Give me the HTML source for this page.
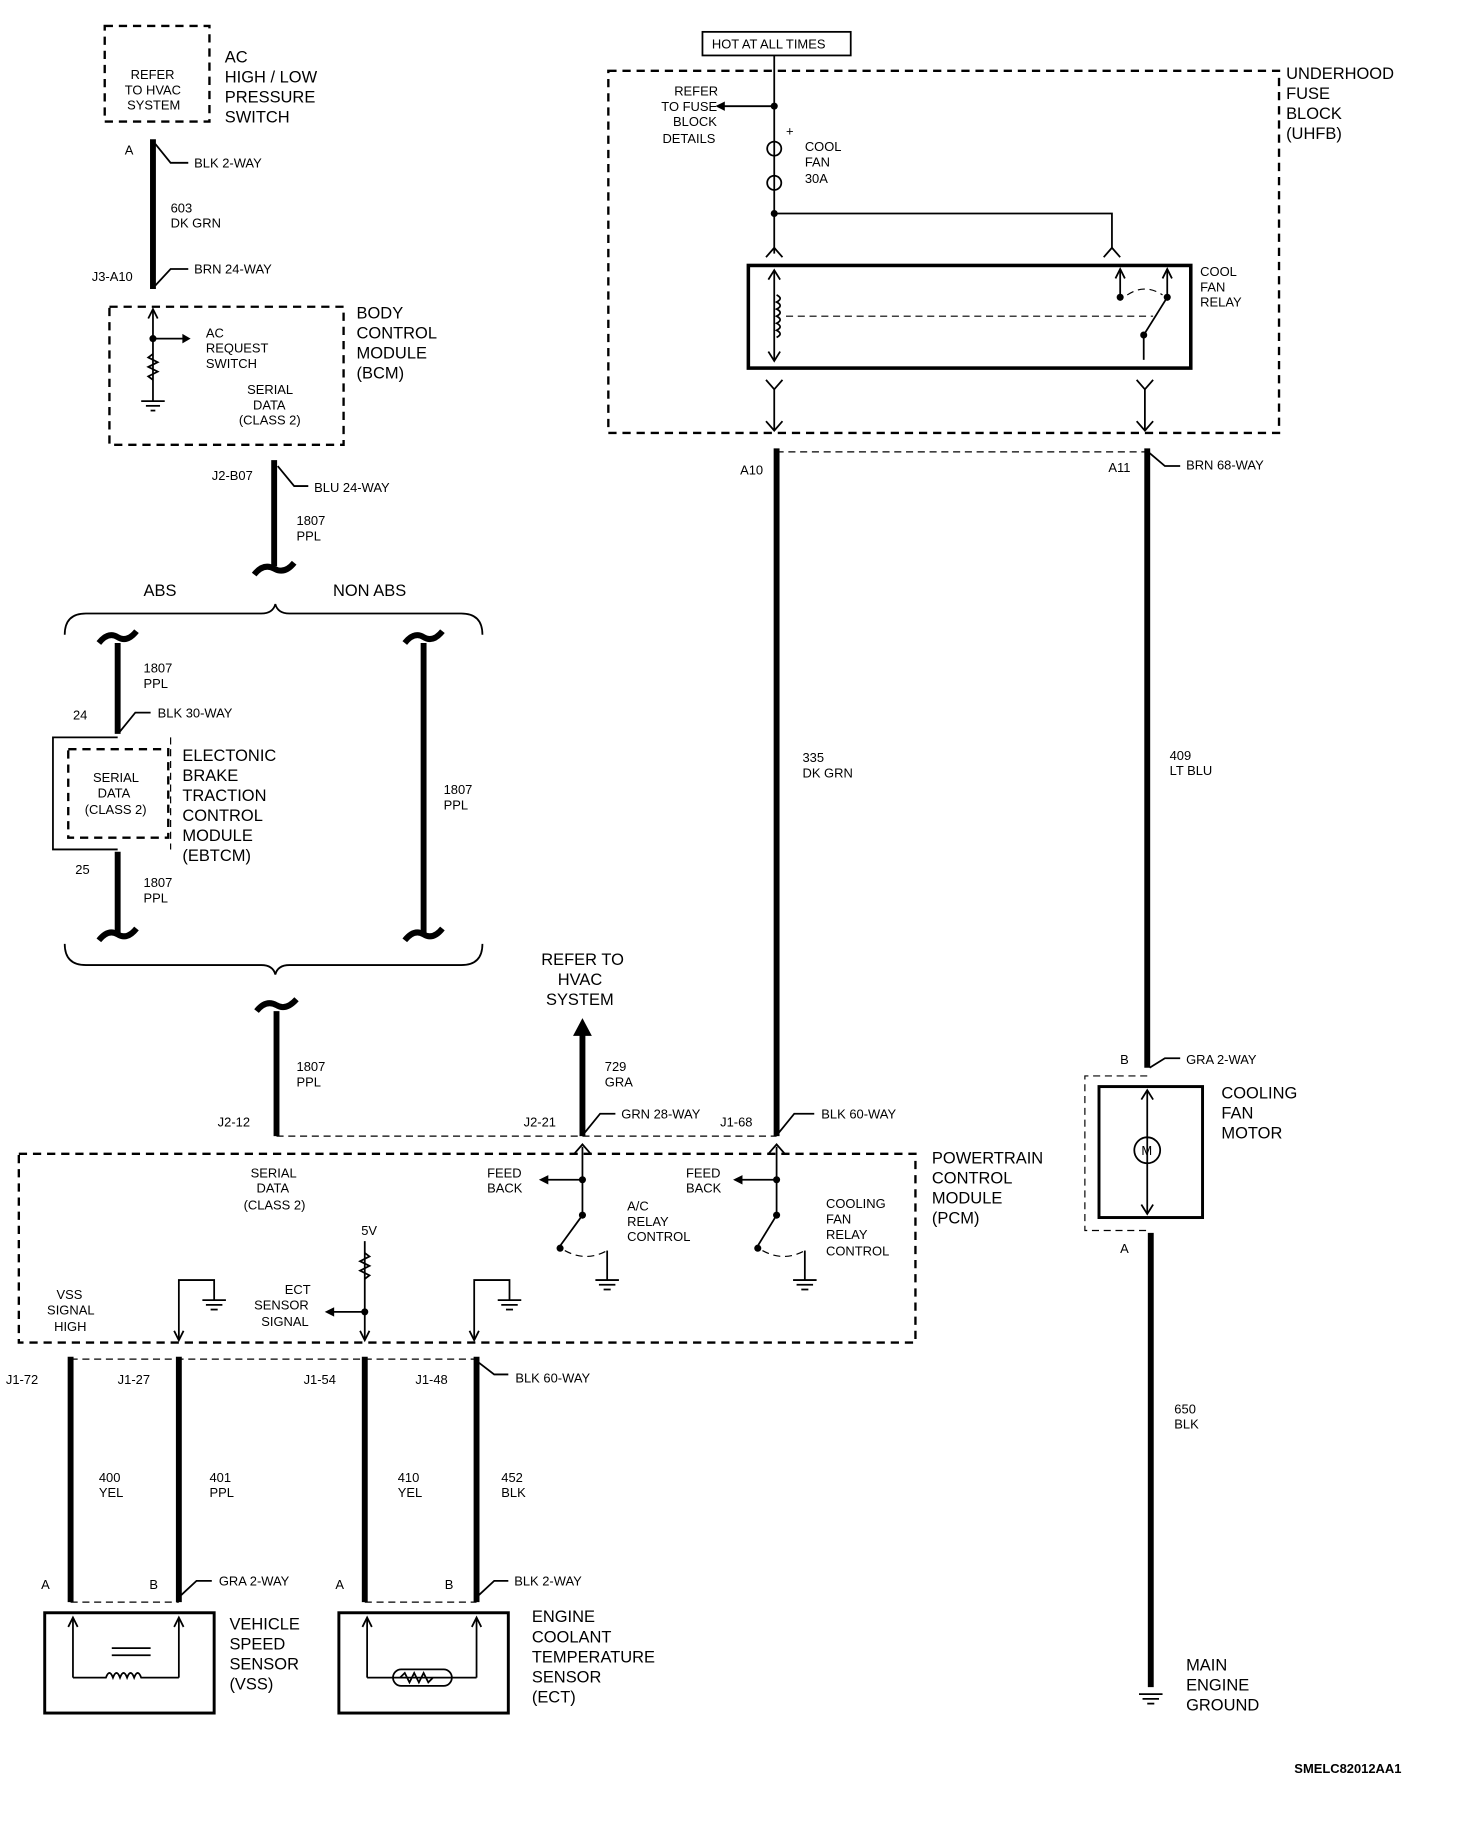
<!DOCTYPE html>
<html><head><meta charset="utf-8"><style>
html,body{margin:0;padding:0;background:#fff;}
svg{display:block;}
text{font-family:"Liberation Sans",sans-serif;fill:#000;}
.s{font-size:11px;}
.m{font-size:14px;}
.w{stroke:#000;stroke-width:5;fill:none;}
.t{stroke:#000;stroke-width:1.5;fill:none;}
.d{stroke:#000;stroke-width:2;fill:none;stroke-dasharray:7,5;}
.dt{stroke:#000;stroke-width:1;fill:none;stroke-dasharray:6,4;}
</style></head><body>
<svg width="1472" height="1844" viewBox="0 0 1251 1563" preserveAspectRatio="none">
<rect x="89" y="22" width="89" height="81" class="d"/>
<text class="s" x="111" y="67">REFER</text><text class="s" x="106" y="80">TO HVAC</text><text class="s" x="108" y="93">SYSTEM</text>
<text class="m" x="191" y="53">AC</text><text class="m" x="191" y="70">HIGH / LOW</text><text class="m" x="191" y="87">PRESSURE</text><text class="m" x="191" y="104">SWITCH</text>
<line x1="130" y1="118" x2="130" y2="245" class="w"/>
<text class="s" x="106" y="131">A</text><path d="M132 122 L145 138 L160 138" class="t"/><text class="s" x="165" y="142">BLK 2-WAY</text>
<text class="s" x="145" y="180">603</text><text class="s" x="145" y="193">DK GRN</text>
<text class="s" x="78" y="238">J3-A10</text><path d="M132 242 L145 228 L160 228" class="t"/><text class="s" x="165" y="232">BRN 24-WAY</text>
<rect x="93" y="260" width="199" height="117" class="d"/>
<line x1="130" y1="262" x2="130" y2="340" class="t"/><path d="M126 270 L130 262 L134 270" class="t"/>
<circle cx="130" cy="287" r="3"/><line x1="130" y1="287" x2="160" y2="287" class="t"/><path d="M155 283 L162 287 L155 291 Z"/>
<path d="M130 300 l-4 3 8 4 -8 4 8 4 -8 4 4 3" class="t"/>
<line x1="120" y1="340" x2="140" y2="340" class="t"/><line x1="124" y1="344" x2="136" y2="344" class="t"/><line x1="128" y1="348" x2="132" y2="348" class="t"/>
<text class="s" x="175" y="286">AC</text><text class="s" x="175" y="299">REQUEST</text><text class="s" x="175" y="312">SWITCH</text>
<text class="s" x="210" y="334">SERIAL</text><text class="s" x="215" y="347">DATA</text><text class="s" x="203" y="360">(CLASS 2)</text>
<text class="m" x="303" y="270">BODY</text><text class="m" x="303" y="287">CONTROL</text><text class="m" x="303" y="304">MODULE</text><text class="m" x="303" y="321">(BCM)</text>
<line x1="233" y1="390" x2="233" y2="480" class="w"/><path d="M216 487 q8 -10 17 -5 q9 5 17 -5" class="w"/>
<text class="s" x="180" y="407">J2-B07</text><path d="M236 395 L250 412 L262 412" class="t"/><text class="s" x="267" y="417">BLU 24-WAY</text>
<text class="s" x="252" y="445">1807</text><text class="s" x="252" y="458">PPL</text>
<text class="m" x="122" y="505">ABS</text><text class="m" x="283" y="505">NON ABS</text>
<path d="M55 538 q0 -18 18 -18 L222 520 q10 0 12 -8 q2 8 12 8 L392 520 q18 0 18 18" class="t"/>
<path d="M55 800 q0 18 18 18 L222 818 q10 0 12 8 q2 -8 12 -8 L392 818 q18 0 18 -18" class="t"/>
<path d="M84 545 q8 -10 16 -5 q8 5 16 -5" class="w"/><line x1="100" y1="545" x2="100" y2="622" class="w"/>
<text class="s" x="122" y="570">1807</text><text class="s" x="122" y="583">PPL</text>
<text class="s" x="62" y="610">24</text><path d="M102 620 L115 604 L128 604" class="t"/><text class="s" x="134" y="608">BLK 30-WAY</text>
<path d="M100 625 L45 625 L45 720 L100 720" class="t"/><path d="M145 625 L145 720" class="dt"/>
<rect x="58" y="635" width="85" height="75" class="d"/>
<text class="s" x="79" y="663">SERIAL</text><text class="s" x="83" y="676">DATA</text><text class="s" x="72" y="690">(CLASS 2)</text>
<text class="m" x="155" y="645">ELECTONIC</text><text class="m" x="155" y="662">BRAKE</text><text class="m" x="155" y="679">TRACTION</text><text class="m" x="155" y="696">CONTROL</text><text class="m" x="155" y="713">MODULE</text><text class="m" x="155" y="730">(EBTCM)</text>
<text class="s" x="64" y="741">25</text><line x1="100" y1="722" x2="100" y2="793" class="w"/><path d="M84 797 q8 -10 16 -5 q8 5 16 -5" class="w"/>
<text class="s" x="122" y="752">1807</text><text class="s" x="122" y="765">PPL</text>
<path d="M344 545 q8 -10 16 -5 q8 5 16 -5" class="w"/><line x1="360" y1="545" x2="360" y2="793" class="w"/><path d="M344 797 q8 -10 16 -5 q8 5 16 -5" class="w"/>
<text class="s" x="377" y="673">1807</text><text class="s" x="377" y="686">PPL</text>
<path d="M218 857 q8 -10 17 -5 q8 5 17 -5" class="w"/><line x1="235" y1="857" x2="235" y2="963" class="w"/>
<text class="s" x="252" y="908">1807</text><text class="s" x="252" y="921">PPL</text>
<text class="s" x="185" y="955">J2-12</text><line x1="235" y1="963" x2="495" y2="963" class="dt"/>
<text class="m" x="460" y="818">REFER TO</text><text class="m" x="474" y="835">HVAC</text><text class="m" x="464" y="852">SYSTEM</text>
<line x1="495" y1="875" x2="495" y2="963" class="w"/><path d="M487 878 L495 863 L503 878 Z"/>
<text class="s" x="514" y="908">729</text><text class="s" x="514" y="921">GRA</text>
<text class="s" x="445" y="955">J2-21</text><path d="M497 960 L510 944 L523 944" class="t"/><text class="s" x="528" y="948">GRN 28-WAY</text>
<text class="s" x="612" y="955">J1-68</text><path d="M662 960 L675 944 L692 944" class="t"/><text class="s" x="698" y="948">BLK 60-WAY</text>
<line x1="495" y1="963" x2="660" y2="963" class="dt"/>
<rect x="597" y="27" width="126" height="20" class="t"/><text class="s" x="605" y="41">HOT AT ALL TIMES</text>
<rect x="517" y="60" width="570" height="307" class="d"/>
<text class="m" x="1093" y="67">UNDERHOOD</text><text class="m" x="1093" y="84">FUSE</text><text class="m" x="1093" y="101">BLOCK</text><text class="m" x="1093" y="118">(UHFB)</text>
<line x1="658" y1="47" x2="658" y2="215" class="t"/>
<circle cx="658" cy="90" r="3"/><line x1="658" y1="90" x2="612" y2="90" class="t"/><path d="M616 86 L608 90 L616 94 Z"/>
<text class="s" x="573" y="81">REFER</text><text class="s" x="562" y="94">TO FUSE</text><text class="s" x="572" y="107">BLOCK</text><text class="s" x="563" y="121">DETAILS</text>
<text class="s" x="668" y="115">+</text>
<circle cx="658" cy="126" r="6" fill="#fff" class="t"/><circle cx="658" cy="155" r="6" fill="#fff" class="t"/>
<text class="s" x="684" y="128">COOL</text><text class="s" x="684" y="141">FAN</text><text class="s" x="684" y="155">30A</text>
<circle cx="658" cy="181" r="3"/><path d="M658 181 L945 181 L945 210" class="t"/>
<path d="M651 218 L658 210 L665 218" class="t"/><path d="M945 210 L952 218 M945 210 L938 218" class="t"/>
<rect x="636" y="225" width="376" height="87" stroke="#000" stroke-width="3" fill="none"/>
<line x1="658" y1="230" x2="658" y2="305" class="t"/><path d="M653 237 L658 229 L663 237" class="t"/><path d="M653 298 L658 306 L663 298" class="t"/>
<path d="M660 250 q6 3 0 6 q6 3 0 6 q6 3 0 6 q6 3 0 6 q6 3 0 6 q6 3 0 6" class="t"/>
<line x1="668" y1="268" x2="980" y2="268" class="dt"/>
<line x1="952" y1="228" x2="952" y2="250" class="t"/><path d="M948 236 L952 228 L956 236" class="t"/><circle cx="952" cy="252" r="3"/>
<line x1="992" y1="228" x2="992" y2="252" class="t"/><path d="M988 236 L992 228 L996 236" class="t"/><circle cx="992" cy="252" r="3"/>
<path d="M958 250 q15 -10 30 0" class="dt"/>
<line x1="972" y1="284" x2="992" y2="252" class="t"/><circle cx="972" cy="284" r="3"/><line x1="972" y1="284" x2="972" y2="305" class="t"/>
<text class="s" x="1020" y="234">COOL</text><text class="s" x="1020" y="247">FAN</text><text class="s" x="1020" y="260">RELAY</text>
<path d="M651 322 L658 330 L665 322" class="t"/><line x1="658" y1="330" x2="658" y2="365" class="t"/><path d="M651 357 L658 365 L665 357" class="t"/>
<path d="M966 322 L973 330 L980 322" class="t"/><line x1="973" y1="330" x2="973" y2="365" class="t"/><path d="M966 357 L973 365 L980 357" class="t"/>
<line x1="660" y1="383" x2="975" y2="383" class="dt"/>
<line x1="660" y1="380" x2="660" y2="963" class="w"/>
<line x1="975" y1="380" x2="975" y2="905" class="w"/>
<text class="s" x="629" y="402">A10</text><text class="s" x="942" y="400">A11</text>
<path d="M977 384 L990 395 L1003 395" class="t"/><text class="s" x="1008" y="398">BRN 68-WAY</text>
<text class="s" x="682" y="646">335</text><text class="s" x="682" y="659">DK GRN</text>
<text class="s" x="994" y="644">409</text><text class="s" x="994" y="657">LT BLU</text>
<text class="s" x="952" y="902">B</text><path d="M977 905 L990 897 L1003 897" class="t"/><text class="s" x="1008" y="902">GRA 2-WAY</text>
<path d="M975 912 L922 912 L922 1043 L975 1043" class="dt"/>
<rect x="934" y="921" width="88" height="111" stroke="#000" stroke-width="2.5" fill="none"/>
<line x1="975" y1="925" x2="975" y2="1028" class="t"/><path d="M970 932 L975 924 L980 932" class="t"/><path d="M970 1021 L975 1029 L980 1021" class="t"/>
<circle cx="975" cy="975" r="11" fill="#fff" class="t"/><text class="s" x="970" y="979">M</text>
<text class="m" x="1038" y="931">COOLING</text><text class="m" x="1038" y="948">FAN</text><text class="m" x="1038" y="965">MOTOR</text>
<text class="s" x="952" y="1062">A</text>
<line x1="978" y1="1045" x2="978" y2="1430" class="w"/>
<text class="s" x="998" y="1198">650</text><text class="s" x="998" y="1211">BLK</text>
<line x1="968" y1="1436" x2="988" y2="1436" class="t"/><line x1="971" y1="1440" x2="985" y2="1440" class="t"/><line x1="975" y1="1444" x2="981" y2="1444" class="t"/>
<text class="m" x="1008" y="1416">MAIN</text><text class="m" x="1008" y="1433">ENGINE</text><text class="m" x="1008" y="1450">GROUND</text>
<rect x="16" y="978" width="762" height="160" class="d"/>
<text class="m" x="792" y="986">POWERTRAIN</text><text class="m" x="792" y="1003">CONTROL</text><text class="m" x="792" y="1020">MODULE</text><text class="m" x="792" y="1037">(PCM)</text>
<text class="s" x="213" y="998">SERIAL</text><text class="s" x="218" y="1011">DATA</text><text class="s" x="207" y="1025">(CLASS 2)</text>
<path d="M488 978 L495 970 L502 978" class="t"/><line x1="495" y1="972" x2="495" y2="1030" class="t"/><circle cx="495" cy="1000" r="3"/><line x1="495" y1="1000" x2="462" y2="1000" class="t"/><path d="M466 996 L458 1000 L466 1004 Z"/>
<circle cx="495" cy="1030" r="3"/><line x1="495" y1="1030" x2="476" y2="1056" class="t"/><circle cx="476" cy="1058" r="3"/><path d="M480 1060 q18 10 36 0" class="dt"/>
<line x1="516" y1="1060" x2="516" y2="1085" class="t"/><line x1="506" y1="1085" x2="526" y2="1085" class="t"/><line x1="509" y1="1089" x2="523" y2="1089" class="t"/><line x1="513" y1="1093" x2="519" y2="1093" class="t"/>
<text class="s" x="414" y="998">FEED</text><text class="s" x="414" y="1011">BACK</text>
<text class="s" x="533" y="1026">A/C</text><text class="s" x="533" y="1039">RELAY</text><text class="s" x="533" y="1052">CONTROL</text>
<path d="M653 978 L660 970 L667 978" class="t"/><line x1="660" y1="972" x2="660" y2="1030" class="t"/><circle cx="660" cy="1000" r="3"/><line x1="660" y1="1000" x2="627" y2="1000" class="t"/><path d="M631 996 L623 1000 L631 1004 Z"/>
<circle cx="660" cy="1030" r="3"/><line x1="660" y1="1030" x2="644" y2="1056" class="t"/><circle cx="644" cy="1058" r="3"/><path d="M648 1060 q18 10 36 0" class="dt"/>
<line x1="684" y1="1060" x2="684" y2="1085" class="t"/><line x1="674" y1="1085" x2="694" y2="1085" class="t"/><line x1="677" y1="1089" x2="691" y2="1089" class="t"/><line x1="681" y1="1093" x2="687" y2="1093" class="t"/>
<text class="s" x="583" y="998">FEED</text><text class="s" x="583" y="1011">BACK</text>
<text class="s" x="702" y="1024">COOLING</text><text class="s" x="702" y="1037">FAN</text><text class="s" x="702" y="1050">RELAY</text><text class="s" x="702" y="1064">CONTROL</text>
<text class="s" x="48" y="1101">VSS</text><text class="s" x="40" y="1114">SIGNAL</text><text class="s" x="46" y="1128">HIGH</text>
<path d="M152 1135 L152 1085 L182 1085 L182 1102" class="t"/><path d="M148 1128 L152 1136 L156 1128" class="t"/>
<line x1="172" y1="1102" x2="192" y2="1102" class="t"/><line x1="175" y1="1106" x2="189" y2="1106" class="t"/><line x1="179" y1="1110" x2="185" y2="1110" class="t"/>
<text class="s" x="307" y="1047">5V</text><line x1="310" y1="1052" x2="310" y2="1135" class="t"/>
<path d="M310 1062 l4 3 -8 4 8 4 -8 4 8 4 -4 3" class="t"/>
<circle cx="310" cy="1112" r="3"/><line x1="310" y1="1112" x2="280" y2="1112" class="t"/><path d="M284 1108 L276 1112 L284 1116 Z"/><path d="M306 1128 L310 1136 L314 1128" class="t"/>
<text class="s" x="242" y="1097">ECT</text><text class="s" x="216" y="1110">SENSOR</text><text class="s" x="222" y="1124">SIGNAL</text>
<path d="M403 1135 L403 1085 L433 1085 L433 1102" class="t"/><path d="M399 1128 L403 1136 L407 1128" class="t"/>
<line x1="423" y1="1102" x2="443" y2="1102" class="t"/><line x1="426" y1="1106" x2="440" y2="1106" class="t"/><line x1="430" y1="1110" x2="436" y2="1110" class="t"/>
<line x1="60" y1="1152" x2="405" y2="1152" class="dt"/>
<line x1="60" y1="1150" x2="60" y2="1358" class="w"/><line x1="152" y1="1150" x2="152" y2="1358" class="w"/>
<line x1="310" y1="1150" x2="310" y2="1358" class="w"/><line x1="405" y1="1150" x2="405" y2="1358" class="w"/>
<text class="s" x="5" y="1173">J1-72</text><text class="s" x="100" y="1173">J1-27</text><text class="s" x="258" y="1173">J1-54</text><text class="s" x="353" y="1173">J1-48</text>
<path d="M407 1155 L420 1165 L432 1165" class="t"/><text class="s" x="438" y="1172">BLK 60-WAY</text>
<text class="s" x="84" y="1256">400</text><text class="s" x="84" y="1269">YEL</text>
<text class="s" x="178" y="1256">401</text><text class="s" x="178" y="1269">PPL</text>
<text class="s" x="338" y="1256">410</text><text class="s" x="338" y="1269">YEL</text>
<text class="s" x="426" y="1256">452</text><text class="s" x="426" y="1269">BLK</text>
<text class="s" x="35" y="1347">A</text><text class="s" x="127" y="1347">B</text><path d="M154 1352 L167 1340 L180 1340" class="t"/><text class="s" x="186" y="1344">GRA 2-WAY</text>
<text class="s" x="285" y="1347">A</text><text class="s" x="378" y="1347">B</text><path d="M407 1352 L420 1340 L432 1340" class="t"/><text class="s" x="437" y="1344">BLK 2-WAY</text>
<line x1="60" y1="1358" x2="152" y2="1358" class="dt"/><line x1="310" y1="1358" x2="405" y2="1358" class="dt"/>
<rect x="38" y="1367" width="144" height="85" stroke="#000" stroke-width="2.5" fill="none"/>
<path d="M62 1422 L62 1372 M152 1422 L152 1372" class="t"/><path d="M58 1379 L62 1371 L66 1379 M148 1379 L152 1371 L156 1379" class="t"/>
<path d="M62 1422 L90 1422 q3 -8 6 0 q3 -8 6 0 q3 -8 6 0 q3 -8 6 0 q3 -8 6 0 L152 1422" class="t"/>
<line x1="95" y1="1397" x2="128" y2="1397" class="t"/><line x1="95" y1="1403" x2="128" y2="1403" class="t"/>
<text class="m" x="195" y="1381">VEHICLE</text><text class="m" x="195" y="1398">SPEED</text><text class="m" x="195" y="1415">SENSOR</text><text class="m" x="195" y="1432">(VSS)</text>
<rect x="288" y="1367" width="144" height="85" stroke="#000" stroke-width="2.5" fill="none"/>
<path d="M312 1422 L312 1372 M405 1422 L405 1372" class="t"/><path d="M308 1379 L312 1371 L316 1379 M401 1379 L405 1371 L409 1379" class="t"/>
<line x1="312" y1="1422" x2="405" y2="1422" class="t"/><rect x="334" y="1415" width="50" height="14" rx="7" fill="#fff" class="t"/>
<path d="M340 1422 l4 -4 4 8 4 -8 4 8 4 -8 4 8 4 -4" class="t"/>
<text class="m" x="452" y="1375">ENGINE</text><text class="m" x="452" y="1392">COOLANT</text><text class="m" x="452" y="1409">TEMPERATURE</text><text class="m" x="452" y="1426">SENSOR</text><text class="m" x="452" y="1443">(ECT)</text>
<text class="s" x="1100" y="1503" style="font-weight:bold">SMELC82012AA1</text>
</svg>
</body></html>
